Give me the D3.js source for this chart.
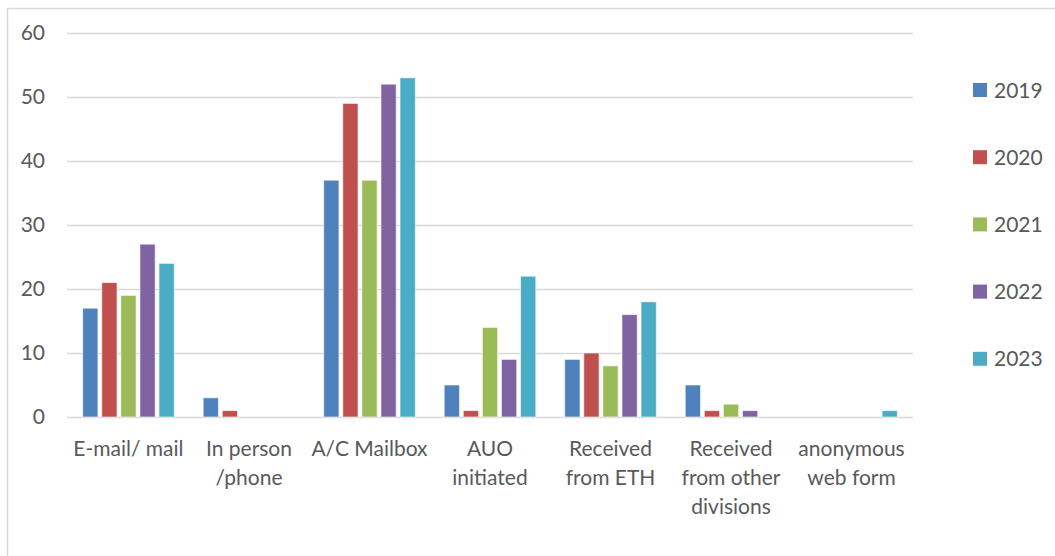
<!DOCTYPE html>
<html><head><meta charset="utf-8">
<script src="https://cdn.jsdelivr.net/npm/d3@7"></script>
<style>body{margin:0;background:#fff;} text{font-family:Lato,"Open Sans",sans-serif;}</style>
</head><body>
<svg id="c" width="1055" height="556"></svg>
<script>
const categories = [["E-mail/ mail"],["In person","/phone"],["A/C Mailbox"],["AUO","initiated"],["Received","from ETH"],["Received","from other","divisions"],["anonymous","web form"]];
const seriesNames = ["2019","2020","2021","2022","2023"];
const v2019 = [17,3,37,5,9,5,0];
const v2020 = [21,1,49,1,10,1,0];
const v2021 = [19,0,37,14,8,2,0];
const v2022 = [27,0,52,9,16,1,0];
const v2023 = [24,0,53,22,18,0,1];
const yTicks = [0,10,20,30,40,50,60];
const colors = ["#4F81BD","#C0504D","#9BBB59","#8064A2","#4BACC6"];
const seriesVals = [v2019,v2020,v2021,v2022,v2023];

const svg = d3.select("#c");
svg.append("rect").attr("x",7.5).attr("y",8.5).attr("width",1100).attr("height",600)
  .attr("fill","none").attr("stroke","#d9d9d9").attr("stroke-width",1.5);

const L=67, R=913, T=33, B=417;
const x0 = d3.scaleBand().domain(d3.range(categories.length)).range([L,R]).paddingInner(0.24).paddingOuter(0.13);
const x1 = d3.scaleBand().domain(seriesNames).range([0,x0.bandwidth()]).paddingInner(0.2);
const y = d3.scaleLinear().domain([0,60]).range([B,T]);

const yAxis = d3.axisLeft(y).tickValues(yTicks).tickSize(-(R-L)).tickFormat(d3.format("d"));
const ga = svg.append("g").attr("transform",`translate(${L},0)`).call(yAxis);
ga.select(".domain").remove();
ga.selectAll(".tick line").attr("stroke","#d9d9d9").attr("stroke-width",1.5);
ga.selectAll(".tick text").attr("x",-22).attr("fill","#595959").style("font-size","21px");

const groups = svg.append("g").selectAll("g").data(categories).join("g")
  .attr("transform",(d,i)=>`translate(${x0(i)},0)`);
groups.selectAll("rect").data((d,i)=>seriesNames.map((s,k)=>({s,k,v:seriesVals[k][i]})).filter(e=>e.v>0))
  .join("rect")
  .attr("x",e=>x1(e.s)).attr("width",x1.bandwidth())
  .attr("y",e=>y(e.v)).attr("height",e=>y(0)-y(e.v))
  .attr("fill",e=>colors[e.k]).attr("stroke","#fff").attr("stroke-opacity",0.6).attr("stroke-width",1);

const xl = svg.append("g");
categories.forEach((lines,i)=>{
  const cx = x0(i)+x0.bandwidth()/2;
  const t = xl.append("text").attr("x",cx).attr("y",456)
    .attr("text-anchor","middle").attr("fill","#595959").style("font-size","21px");
  lines.forEach((ln,j)=>t.append("tspan").attr("x",cx).attr("dy",j?29:0).text(ln));
});

const leg = svg.append("g");
seriesNames.forEach((s,k)=>{
  const cy = 90 + k*67.2;
  leg.append("rect").attr("x",973).attr("y",cy-7).attr("width",14).attr("height",14).attr("fill",colors[k]);
  leg.append("text").attr("x",994).attr("y",cy+7.5).attr("fill","#595959").style("font-size","21px").text(s);
});
</script>
</body></html>
